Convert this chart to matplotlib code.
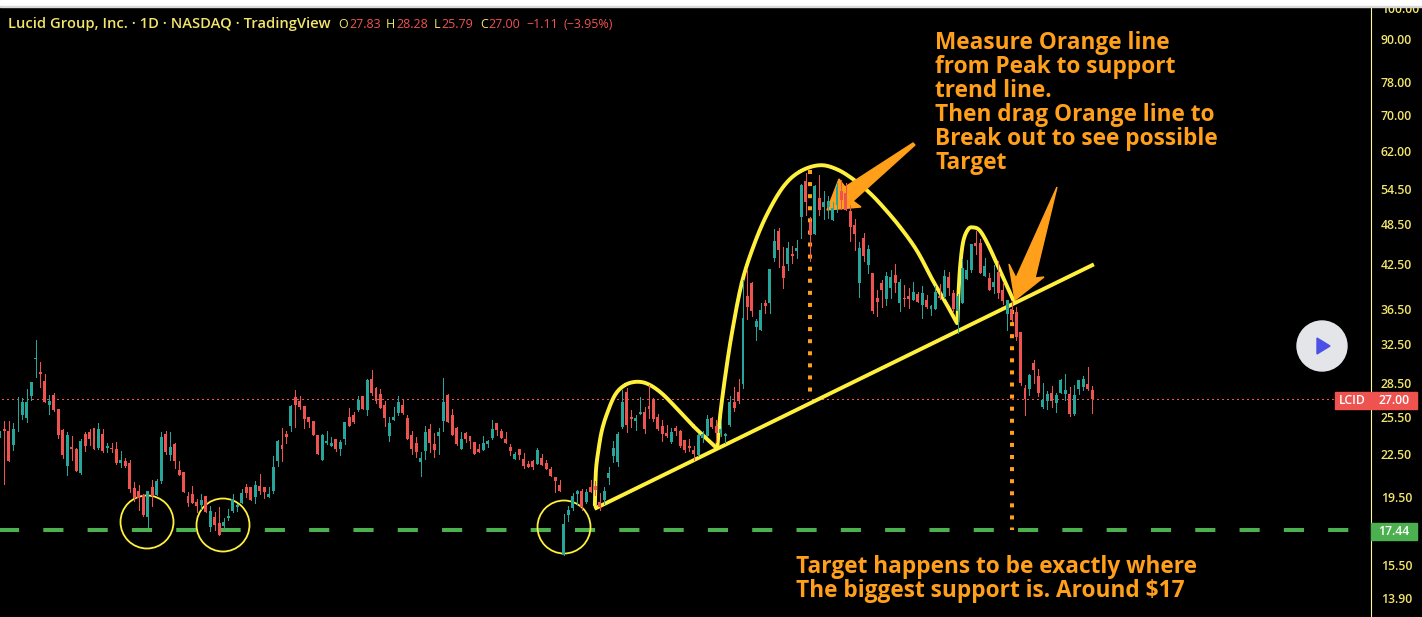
import matplotlib
matplotlib.use("Agg")
import matplotlib.pyplot as plt
import numpy as np
from matplotlib.patches import Circle, Polygon, Rectangle

# daily candles, oldest first
opens = [23.8,24.45,24.29,23.18,24.53,25.62,25.37,27.3,30.9,29.6,28.7,26.5,27.4,26.14,24.37,21.6,23.03,22.88,21.11,24.05,24.2,24.53,22.95,24.05,22.95,22.95,22.88,21.82,21.97,21.82,20.07,19.87,19.6,18.22,20.14,19.6,20.55,24.05,22.42,23.25,21.32,21.18,19.54,19.67,19.15,18.96,19.54,17.62,18.22,17.86,17.68,18.16,18.58,18.84,19.09,20.14,20.14,19.48,20.2,20.14,19.48,19.87,21.97,23.18,24.05,24.7,27.2,26.85,26.41,25.45,25.11,23.97,
 22.04,23.33,23.1,23.65,22.88,23.65,25.45,25.62,26.05,27.3,26.05,28.9,28.04,27.5,26.5,23.9,25.2,25.8,26.5,25.37,23.97,23.33,21.9,22.73,24.45,23.25,23.9,25.11,27.4,25.62,24.53,22.88,24.13,23.9,23.41,22.88,22.8,23.25,23.73,24.95,24.29,23.65,23.03,22.12,22.88,22.12,21.75,21.97,21.75,22.2,21.82,21.39,20.83,20.27,16.05,18.34,18.78,19.67,19.87,19.15,20.14,20.2,19.15,19.28,20.76,22.34,21.9,
 24.62,27.67,25.45,25.11,25.7,25.88,26.41,27.03,25.45,24.7,24.13,23.41,24.53,24.29,23.57,23.1,22.8,22.42,23.73,23.9,25.37,24.7,24.13,23.9,24.78,26.76,27.67,28.42,38.1,39.8,34.4,34.04,37.23,37.23,43.3,47.44,42.17,42.43,43.9,44.35,49.7,56.05,48.9,46.95,52.95,51.4,51.4,49.2,51.75,54.2,53.85,50.75,48.4,39.8,46.3,42.3,
 41.17,37.85,39.8,37.72,39.15,40.9,37.28,37.85,38.1,37.6,38.38,37.0,37.6,36.5,36.5,38.1,37.98,40.6,38.5,36.28,37.23,40.33,41.6,45.55,45.55,40.75,40.48,39.3,41.3,38.9,35.9,36.5,36.16,33.8,28.04,27.94,30.5,29.2,26.32,26.85,27.57,26.67,27.57,27.5,27.5,25.7,27.94,28.13,28.42,27.83]
highs = [24.29,25.1,25.1,24.95,27.2,27.12,27.94,28.64,32.93,30.6,29.4,27.4,27.57,26.14,24.45,24.2,23.9,22.95,23.65,24.2,24.45,24.53,24.95,24.45,23.33,23.33,23.41,22.73,22.2,22.04,20.48,20.27,19.67,19.87,20.62,20.69,24.2,24.29,24.2,23.33,21.97,21.18,19.8,20.2,19.35,19.67,19.54,18.9,18.52,18.84,18.16,18.71,19.67,19.03,20.0,20.34,20.14,20.55,21.04,20.14,20.14,22.34,23.57,24.53,24.29,26.5,27.85,27.3,26.41,25.45,25.11,23.97,
 24.05,24.29,23.8,23.65,23.57,25.03,26.23,25.88,27.3,27.3,28.9,29.8,28.13,27.94,26.85,25.45,26.32,27.3,27.03,25.62,24.29,23.8,22.65,24.7,24.87,24.13,24.53,29.0,27.5,26.14,24.62,24.2,24.2,23.9,23.41,23.25,23.9,23.57,25.2,24.95,24.45,24.2,23.25,22.65,22.88,22.58,21.97,22.04,22.95,22.5,22.04,21.53,20.83,20.62,18.4,18.9,19.74,19.94,20.0,20.0,20.62,20.55,19.74,20.14,21.53,23.5,24.2,
 27.85,28.04,26.05,25.62,27.2,26.32,28.32,27.12,25.7,25.2,24.78,24.53,24.7,24.37,23.57,23.65,23.1,24.05,24.29,25.62,25.45,25.2,25.11,24.13,27.3,28.13,28.9,40.2,41.6,40.05,35.32,37.23,37.6,41.74,47.75,47.9,44.95,45.7,45.1,46.0,55.5,57.6,49.75,55.3,57.2,54.2,53.3,52.25,55.6,56.25,55.6,51.75,49.35,45.7,47.1,45.25,
 41.17,38.9,40.2,41.3,41.6,42.43,40.43,39.55,39.15,40.05,38.65,39.43,38.25,37.0,39.43,39.67,41.6,41.3,38.9,38.46,43.15,43.0,45.4,47.44,46.15,43.3,41.17,42.3,42.86,39.93,37.6,37.47,36.75,33.8,28.32,29.4,30.8,29.9,28.52,27.76,28.22,27.57,28.9,29.4,28.13,28.32,28.8,29.2,30.1,28.28]
lows = [23.8,20.37,21.99,22.8,24.29,25.28,25.03,26.94,29.1,28.13,26.76,25.7,25.97,23.73,22.2,20.97,22.04,21.25,21.04,22.73,23.18,22.88,22.88,22.65,22.65,22.65,21.75,21.53,21.53,19.8,19.22,18.65,18.28,17.62,18.9,19.6,20.41,22.5,22.04,21.46,20.97,19.8,18.9,19.09,18.52,18.71,18.52,17.38,17.44,17.15,17.5,18.04,18.52,18.58,19.09,19.48,19.28,19.09,19.67,19.41,19.48,19.74,21.6,21.97,23.33,24.29,24.62,26.14,24.53,24.62,23.97,22.5,
 22.04,23.25,23.1,22.73,22.42,23.25,24.7,24.95,25.97,26.14,25.62,27.4,26.67,26.23,24.7,23.5,25.2,25.62,25.7,23.65,22.5,22.26,20.9,22.12,22.65,22.26,22.5,24.29,25.03,23.97,23.18,22.88,23.41,22.95,22.5,22.65,22.8,23.03,23.65,23.97,23.73,23.33,22.42,22.12,22.12,21.46,21.53,21.39,21.75,21.68,21.39,20.9,19.8,19.87,16.05,17.98,18.65,19.03,18.65,19.09,19.8,19.6,18.65,19.03,20.34,21.9,21.6,
 24.53,24.2,24.62,24.37,25.7,24.13,25.37,25.11,24.37,23.5,23.8,23.33,23.97,23.03,22.65,22.73,22.04,22.34,23.41,23.9,24.53,23.41,23.9,23.33,24.7,25.97,26.67,28.04,35.32,35.67,32.93,34.04,36.03,36.03,42.86,42.03,39.15,41.6,42.6,43.3,46.3,50.05,42.86,46.95,50.05,49.35,49.5,49.2,50.6,51.0,50.9,45.85,44.5,37.98,42.86,41.17,
 36.03,35.67,36.75,37.0,37.85,38.65,36.28,36.87,36.64,37.6,37.35,35.43,36.64,35.8,36.5,37.72,37.85,38.25,36.28,33.7,37.23,40.33,41.3,43.9,41.17,40.75,38.9,38.5,37.85,37.1,34.04,35.08,32.93,28.32,25.62,27.4,28.52,27.3,26.23,26.14,26.32,25.88,27.57,26.94,25.53,25.62,27.5,27.85,27.85,25.79]
closes = [24.29,24.29,21.99,24.45,24.53,26.76,26.76,28.64,31.0,29.4,26.76,26.88,26.05,23.97,22.42,23.97,22.88,21.25,23.5,23.1,23.65,22.88,24.45,22.73,23.1,22.88,21.82,22.04,21.6,20.0,19.41,19.41,18.34,19.87,19.54,20.55,23.8,22.65,23.03,21.97,20.97,19.8,19.09,19.09,18.9,19.28,18.52,18.58,17.74,17.15,17.92,18.28,19.35,18.96,19.74,19.74,19.28,20.27,19.87,19.8,19.67,21.53,23.5,22.88,23.8,26.41,26.5,26.32,25.28,25.03,23.97,22.5,
 23.97,23.5,23.33,22.88,23.41,25.03,24.7,25.03,26.94,26.14,28.8,27.57,26.85,26.23,25.37,24.95,25.45,26.76,25.8,23.65,22.88,22.65,22.2,24.2,23.33,22.8,24.2,26.76,25.03,23.97,23.25,23.65,23.65,23.5,22.5,22.65,23.33,23.5,24.45,24.37,23.73,23.33,22.73,22.5,22.42,21.6,21.53,21.53,22.8,21.68,21.39,20.9,20.55,19.87,17.8,18.65,19.54,19.87,18.84,19.8,19.8,19.94,18.84,19.87,21.11,22.95,24.05,
 26.76,24.78,25.28,25.37,25.88,24.45,26.14,25.28,24.45,24.05,23.9,24.2,24.29,23.1,22.8,22.95,22.5,23.97,24.05,25.28,24.62,24.13,24.45,24.05,26.76,26.23,26.85,35.43,36.75,36.28,35.08,36.4,36.87,41.74,45.85,44.5,40.48,44.8,43.6,44.8,55.3,52.25,46.8,55.1,50.9,52.25,52.4,51.25,54.9,52.6,50.9,48.05,46.95,44.8,43.6,44.65,
 36.28,37.35,38.9,40.75,40.6,39.8,39.93,37.72,37.72,38.65,37.35,38.5,36.75,36.87,38.65,37.85,40.75,39.15,36.5,38.1,41.9,41.6,45.4,45.1,41.17,42.17,38.9,39.93,38.5,37.47,37.6,35.2,33.25,28.52,27.03,29.3,29.8,27.57,26.94,27.5,26.85,27.4,28.8,27.85,25.7,27.4,28.8,28.9,27.94,27.0]

# the hand drawn shapes, in bar number and price
arc_left_bar = [132.9,133.0,133.2,133.7,134.4,135.5,137.4,139.6,142.2,144.8,147.8,151.2,154.9,157.5,160.1]
arc_left_price = [18.96,20.2,21.53,22.8,24.23,25.62,27.4,28.32,28.64,28.42,27.57,26.2,24.7,23.8,22.95]
arc_head_bar = [160.3,160.9,162.0,163.5,165.7,168.3,171.3,175.0,178.7,183.2,187.3,191.4,194.4,197.3,201.1,204.9,208.4,211.6,213.8]
arc_head_price = [23.18,25.62,29.1,33.65,39.8,45.0,50.05,55.0,57.85,59.1,58.17,55.9,53.8,51.4,48.05,44.35,40.2,37.0,34.85]
arc_right_bar = [213.9,214.1,214.5,215.2,216.3,217.4,218.9,220.8,223.0,224.9,226.5]
arc_right_price = [35.0,38.0,42.07,45.8,47.7,48.0,47.5,45.25,42.07,39.55,37.5]
trend_bar = [133.2,244.0]
trend_price = [18.78,42.3]
peak_drop_bar = [181.0,181.0]
peak_drop_price = [58.17,27.0]
target_drop_bar = [226.1,226.1]
target_drop_price = [36.4,17.44]

last_price = 27.00
support_price = 17.44
axis_ticks = [100.0,90.0,78.0,70.0,62.0,54.5,48.5,42.5,36.5,32.5,28.5,25.5,22.5,19.5,15.5,13.9]

note_top = ["Measure Orange line","from Peak to support","trend line.","Then drag Orange line to","Break out to see possible","Target"]
note_bottom = ["Target happens to be exactly where","The biggest support is. Around $17"]

UP = "#26a69a"
DOWN = "#ef5350"
YELLOW = "#fff03c"
LABEL = "#f2e56b"
ORANGE = "#ff9f1a"
GREEN = "#4caf50"
FONT = ["Open Sans","DejaVu Sans"]
BAR_PX = 4.476


def smooth(bx, by):
    # catmull-rom through the picked points so the arcs dont look faceted
    p = np.column_stack([bx, np.log(by)])
    p = np.vstack([p[0], p, p[-1]])
    out = []
    for i in range(1, len(p) - 2):
        for t in np.linspace(0, 1, 16):
            out.append(0.5 * (2*p[i] + (p[i+1]-p[i-1])*t + (2*p[i-1]-5*p[i]+4*p[i+1]-p[i+2])*t*t + (3*p[i]-p[i-1]-3*p[i+1]+p[i+2])*t**3))
    out = np.array(out)
    return out[:, 0], np.exp(out[:, 1])


fig = plt.figure(figsize=(14.22, 6.17), dpi=100, facecolor="black")
ax = fig.add_axes([0, 0, 1371/1422, 610/617], facecolor="black")
ax.set_xlim(0, 1371/BAR_PX)
ax.set_yscale("log")
ax.set_ylim(13.04, 100.33)

# everything that sits on top of the chart is placed in picture pixels
ov = fig.add_axes([0, 0, 1, 1], facecolor="none")
ov.set_xlim(0, 1422)
ov.set_ylim(617, 0)
ov.axis("off")

bars = np.arange(len(closes))
o = np.array(opens)
c = np.array(closes)
colors = [UP if a >= b else DOWN for a, b in zip(c, o)]
ax.vlines(bars, lows, highs, colors=colors, linewidth=0.72, zorder=6, antialiased=False)
ax.bar(bars, np.abs(c-o), bottom=np.minimum(o, c), width=0.66, color=colors, linewidth=0, zorder=7)

ax.plot([0.5, 1335/BAR_PX], [last_price]*2, color=DOWN, lw=0.75, linestyle=(0, (1, 3)), zorder=1, antialiased=False)
ax.plot([0, 1371/BAR_PX], [support_price]*2, color=GREEN, lw=2.9, linestyle=(0.25, (5, 6)), zorder=2)
ax.plot(peak_drop_bar, peak_drop_price, color=ORANGE, lw=2.9, linestyle=(0, (1, 2)), zorder=2)
ax.plot(target_drop_bar, target_drop_price, color=ORANGE, lw=2.9, linestyle=(0, (1, 2)), zorder=2)

for bx, by in [(arc_left_bar, arc_left_price), (arc_head_bar, arc_head_price), (arc_right_bar, arc_right_price)]:
    sx, sy = smooth(bx, by)
    ax.plot(sx, sy, color=YELLOW, lw=2.8, zorder=3, solid_capstyle="round")
ax.plot(trend_bar, trend_price, color=YELLOW, lw=2.8, zorder=3)

for cx, cy in [(147, 522), (223, 525), (564, 527)]:
    ax.add_patch(Circle((cx, cy), 26.5, fill=False, ec=YELLOW, lw=1.3, zorder=3, transform=ov.transData))
ax.add_patch(Polygon([(827, 210), (839, 179), (845, 187), (913, 143), (915, 145), (853, 201), (861, 207)], color=ORANGE, zorder=4, transform=ov.transData))
ax.add_patch(Polygon([(1015, 300), (1009, 264), (1016, 278), (1057, 187), (1035, 278), (1044, 277)], color=ORANGE, zorder=4, transform=ov.transData))

ax.yaxis.tick_right()
ax.minorticks_off()
ax.set_yticks(axis_ticks)
ax.set_yticklabels(["%.2f" % t for t in axis_ticks], color=LABEL, fontsize=8.8, fontweight="semibold", family=FONT)
ax.tick_params(axis="y", length=0, pad=7)
ax.set_xticks([])
for side in ["top", "left", "bottom"]:
    ax.spines[side].set_visible(False)
ax.spines["right"].set_color("#fff59d")
ax.spines["right"].set_linewidth(0.8)

ov.add_patch(Rectangle((0, 0), 1422, 6, color="white", zorder=10))
ov.add_patch(Rectangle((0, 6), 1422, 1, color="#d9d9d9", zorder=10))

ov.add_patch(Circle((1322, 346), 25, color="#e3e5e8", zorder=6))
ov.add_patch(Polygon([(1317, 338), (1330, 346), (1317, 354)], color="#4b50e6", zorder=7))

ov.add_patch(Rectangle((1335, 392), 35, 17, color=DOWN, zorder=6))
ov.add_patch(Rectangle((1371, 392), 46, 17, color=DOWN, zorder=6))
ov.add_patch(Rectangle((1371, 523), 46, 17, color=GREEN, zorder=6))
ov.text(1352.5, 400.5, "LCID", color="white", fontsize=8.8, fontweight="semibold", ha="center", va="center", family=FONT, zorder=8)
ov.text(1394, 400.5, "%.2f" % last_price, color="white", fontsize=8.8, fontweight="semibold", ha="center", va="center", family=FONT, zorder=8)
ov.text(1394, 531.5, "%.2f" % support_price, color="white", fontsize=8.8, fontweight="semibold", ha="center", va="center", family=FONT, zorder=8)

ov.text(8, 24, "Lucid Group, Inc. · 1D · NASDAQ · TradingView", color=LABEL, fontsize=10.6, fontweight="semibold", va="center", family=FONT, zorder=8)
for px, s, col in [(338, "O", LABEL), (349, "27.83", DOWN), (386, "H", LABEL), (396, "28.28", DOWN), (434, "L", LABEL), (441, "25.79", DOWN), (480, "C", LABEL), (488, "27.00", DOWN), (526, "−1.11", DOWN), (563, "(−3.95%)", DOWN)]:
    ov.text(px, 24, s, color=col, fontsize=9, va="center", family=FONT, zorder=8)

for i, line in enumerate(note_top):
    ov.text(935, 43+24*i, line, color=ORANGE, fontsize=16.3, fontweight="bold", va="center", family=FONT, zorder=8)
for i, line in enumerate(note_bottom):
    ov.text(796, 567+24*i, line, color=ORANGE, fontsize=16.3, fontweight="bold", va="center", family=FONT, zorder=8)

fig.savefig("out.png", dpi=100, facecolor="black")
